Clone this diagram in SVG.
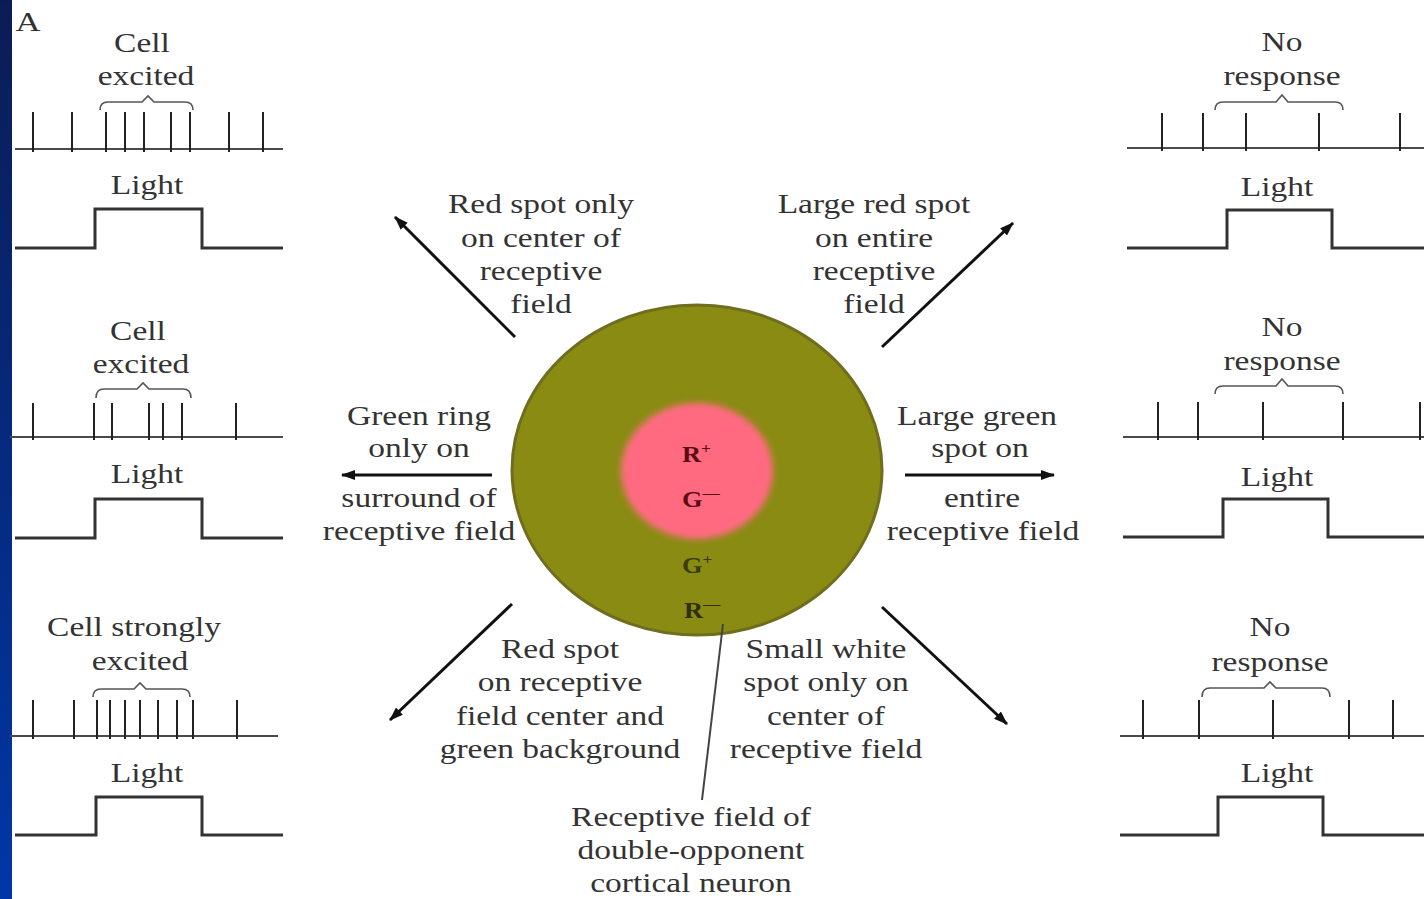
<svg xmlns="http://www.w3.org/2000/svg" width="1424" height="899" viewBox="0 0 1424 899">
<defs>
<linearGradient id="bar" x1="0" y1="0" x2="0" y2="1">
<stop offset="0" stop-color="#0b1c55"/>
<stop offset="1" stop-color="#0037a6"/>
</linearGradient>
<filter id="soft" x="-20%" y="-20%" width="140%" height="140%"><feGaussianBlur stdDeviation="3"/></filter>
<marker id="ah" viewBox="0 0 14 10" refX="13" refY="5" markerWidth="14" markerHeight="10" markerUnits="userSpaceOnUse" orient="auto">
<path d="M0,0 L14,5 L0,10 Z" fill="#111"/>
</marker>
<style>
.t{font-family:"Liberation Serif","Times New Roman",serif;font-size:27px;fill:#333;text-anchor:middle}
.base{stroke:#4a4a4a;stroke-width:2;fill:none}
.sp{stroke:#222;stroke-width:2}
.step{stroke:#333;stroke-width:3;fill:none}
.br{stroke:#555;stroke-width:1.6;fill:none}
.arr{stroke:#111;stroke-width:3;fill:none;marker-end:url(#ah)}
.cl{font-family:"Liberation Serif","Times New Roman",serif;font-size:23px;font-weight:bold;text-anchor:start}
.sup{font-size:15px}
</style>
</defs>
<rect width="1424" height="899" fill="#ffffff"/>
<rect x="0" y="0" width="12" height="899" fill="url(#bar)"/>
<text class="t" transform="translate(28,31) scale(1.24,1)" style="font-size:28px">A</text>

<g id="panel-l1">
<text class="t" transform="translate(142,52) scale(1.24,1)">Cell</text>
<text class="t" transform="translate(146,85) scale(1.24,1)">excited</text>
<path class="br" d="M100,110 Q100,102 108,102 L142,102 L148,96 L154,102 L185,102 Q193,102 193,110"/>
<line class="base" x1="15" y1="149" x2="283" y2="149"/>
<path class="sp" d="M33,112V152M72,112V152M106,112V152M125,112V152M144,112V152M171,112V152M190,112V152M229,112V152M263,112V152"/>
<text class="t" transform="translate(147,194) scale(1.24,1)">Light</text>
<path class="step" d="M15,248H95V209H202V248H283"/>
</g>

<g id="panel-l2">
<text class="t" transform="translate(138,340) scale(1.24,1)">Cell</text>
<text class="t" transform="translate(141,373) scale(1.24,1)">excited</text>
<path class="br" d="M96,398 Q96,389 104,389 L137,389 L143,383 L149,389 L183,389 Q191,389 191,398"/>
<line class="base" x1="10" y1="437" x2="283" y2="437"/>
<path class="sp" d="M33,403V440M94,403V440M112,403V440M149,403V440M163,403V440M182,403V440M236,403V440"/>
<text class="t" transform="translate(147,483) scale(1.24,1)">Light</text>
<path class="step" d="M15,538H95V499H202V538H283"/>
</g>

<g id="panel-l3">
<text class="t" transform="translate(134,636) scale(1.24,1)">Cell strongly</text>
<text class="t" transform="translate(140,670) scale(1.24,1)">excited</text>
<path class="br" d="M93,697 Q93,689 101,689 L134,689 L140,683 L146,689 L182,689 Q190,689 190,697"/>
<line class="base" x1="10" y1="736" x2="278" y2="736"/>
<path class="sp" d="M33,700V739M74,700V739M97,700V739M110,700V739M125,700V739M140,700V739M158,700V739M177,700V739M193,700V739M237,700V739"/>
<text class="t" transform="translate(147,782) scale(1.24,1)">Light</text>
<path class="step" d="M15,835H96V797H202V835H283"/>
</g>

<g id="panel-r1">
<text class="t" transform="translate(1282,51) scale(1.24,1)">No</text>
<text class="t" transform="translate(1282,85) scale(1.24,1)">response</text>
<path class="br" d="M1215,110 Q1215,102 1223,102 L1276,102 L1282,95 L1288,102 L1335,102 Q1343,102 1343,110"/>
<line class="base" x1="1127" y1="148" x2="1424" y2="148"/>
<path class="sp" d="M1162,113V151M1203,113V151M1246,113V151M1319,113V151M1400,113V151"/>
<text class="t" transform="translate(1277,196) scale(1.24,1)">Light</text>
<path class="step" d="M1127,248H1227V210H1332V248H1424"/>
</g>

<g id="panel-r2">
<text class="t" transform="translate(1282,336) scale(1.24,1)">No</text>
<text class="t" transform="translate(1282,370) scale(1.24,1)">response</text>
<path class="br" d="M1215,394 Q1215,386 1223,386 L1276,386 L1282,379 L1288,386 L1335,386 Q1343,386 1343,394"/>
<line class="base" x1="1123" y1="437" x2="1424" y2="437"/>
<path class="sp" d="M1158,402V440M1198,402V440M1263,402V440M1343,402V440M1420,402V440"/>
<text class="t" transform="translate(1277,486) scale(1.24,1)">Light</text>
<path class="step" d="M1123,537H1223V499H1328V537H1424"/>
</g>

<g id="panel-r3">
<text class="t" transform="translate(1270,636) scale(1.24,1)">No</text>
<text class="t" transform="translate(1270,671) scale(1.24,1)">response</text>
<path class="br" d="M1202,697 Q1202,688 1210,688 L1264,688 L1270,682 L1276,688 L1322,688 Q1330,688 1330,697"/>
<line class="base" x1="1120" y1="736" x2="1424" y2="736"/>
<path class="sp" d="M1143,700V739M1199,700V739M1273,700V739M1349,700V739M1393,700V739"/>
<text class="t" transform="translate(1277,782) scale(1.24,1)">Light</text>
<path class="step" d="M1120,835H1218V797H1323V835H1424"/>
</g>

<g id="receptive-field">
<ellipse cx="697" cy="470" rx="185" ry="165" fill="#8a8b13" stroke="#6e6e1e" stroke-width="3"/>
<ellipse cx="697" cy="471" rx="76" ry="68" fill="#ff6b80" filter="url(#soft)"/>
<text class="cl" transform="translate(682,462) scale(1.15,1)" fill="#5a0d10">R<tspan class="sup" dy="-9">+</tspan></text>
<text class="cl" transform="translate(682,507) scale(1.15,1)" fill="#5a0d10">G<tspan class="sup" dy="-9">—</tspan></text>
<text class="cl" transform="translate(682,573) scale(1.15,1)" fill="#3b3b0c">G<tspan class="sup" dy="-9">+</tspan></text>
<text class="cl" transform="translate(684,618) scale(1.15,1)" fill="#2e2e10">R<tspan class="sup" dy="-9">—</tspan></text>
</g>

<g id="connectors">
<line class="arr" x1="515" y1="337" x2="395" y2="217"/>
<line class="arr" x1="882" y1="347" x2="1013" y2="223"/>
<line class="arr" x1="492" y1="475" x2="342" y2="475"/>
<line class="arr" x1="905" y1="475" x2="1054" y2="475"/>
<line class="arr" x1="512" y1="604" x2="390" y2="720"/>
<line class="arr" x1="882" y1="607" x2="1007" y2="724"/>
<line x1="723" y1="624" x2="702" y2="800" stroke="#444" stroke-width="2"/>
</g>

<g id="label-ul">
<text class="t" transform="translate(541,213) scale(1.24,1)">Red spot only</text>
<text class="t" transform="translate(541,247) scale(1.24,1)">on center of</text>
<text class="t" transform="translate(541,280) scale(1.24,1)">receptive</text>
<text class="t" transform="translate(541,313) scale(1.24,1)">field</text>
</g>
<g id="label-ur">
<text class="t" transform="translate(874,213) scale(1.24,1)">Large red spot</text>
<text class="t" transform="translate(874,247) scale(1.24,1)">on entire</text>
<text class="t" transform="translate(874,280) scale(1.24,1)">receptive</text>
<text class="t" transform="translate(874,313) scale(1.24,1)">field</text>
</g>
<g id="label-l">
<text class="t" transform="translate(419,425) scale(1.24,1)">Green ring</text>
<text class="t" transform="translate(419,457) scale(1.24,1)">only on</text>
<text class="t" transform="translate(419,507) scale(1.24,1)">surround of</text>
<text class="t" transform="translate(419,540) scale(1.24,1)">receptive field</text>
</g>
<g id="label-r">
<text class="t" transform="translate(977,425) scale(1.24,1)">Large green</text>
<text class="t" transform="translate(980,457) scale(1.24,1)">spot on</text>
<text class="t" transform="translate(982,507) scale(1.24,1)">entire</text>
<text class="t" transform="translate(983,540) scale(1.24,1)">receptive field</text>
</g>
<g id="label-ll">
<text class="t" transform="translate(560,658) scale(1.24,1)">Red spot</text>
<text class="t" transform="translate(560,691) scale(1.24,1)">on receptive</text>
<text class="t" transform="translate(560,725) scale(1.24,1)">field center and</text>
<text class="t" transform="translate(560,758) scale(1.24,1)">green background</text>
</g>
<g id="label-lr">
<text class="t" transform="translate(826,658) scale(1.24,1)">Small white</text>
<text class="t" transform="translate(826,691) scale(1.24,1)">spot only on</text>
<text class="t" transform="translate(826,725) scale(1.24,1)">center of</text>
<text class="t" transform="translate(826,758) scale(1.24,1)">receptive field</text>
</g>
<g id="label-bottom">
<text class="t" transform="translate(691,826) scale(1.24,1)">Receptive field of</text>
<text class="t" transform="translate(691,859) scale(1.24,1)">double-opponent</text>
<text class="t" transform="translate(691,892) scale(1.24,1)">cortical neuron</text>
</g>
</svg>
